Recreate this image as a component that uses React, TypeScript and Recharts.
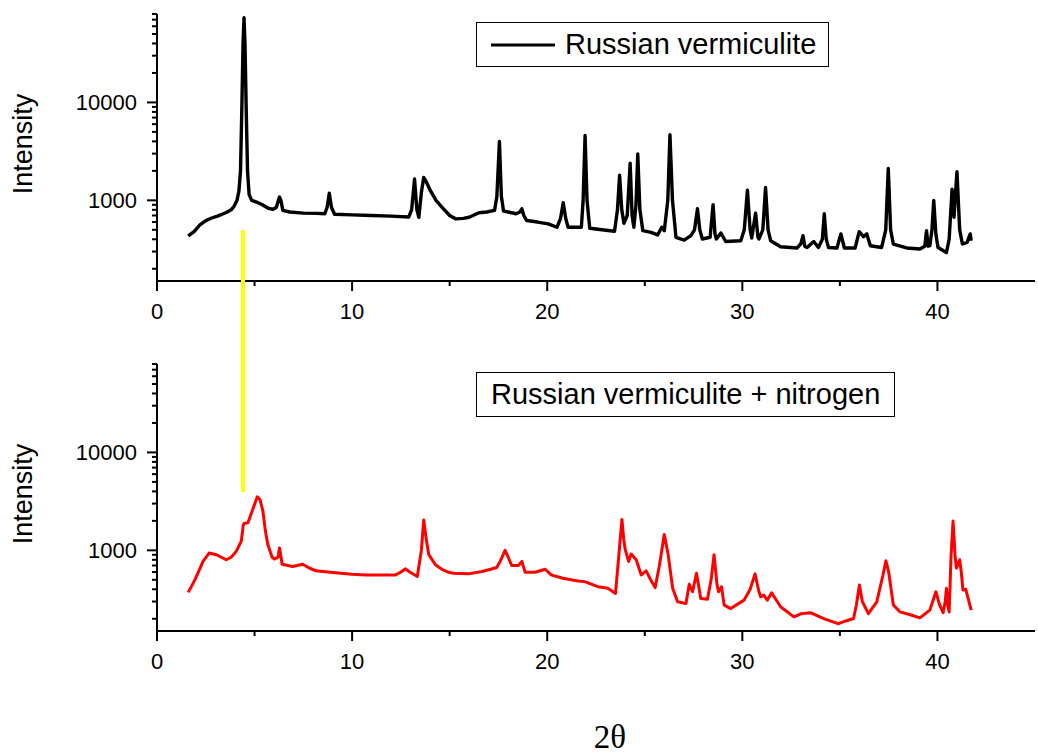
import React from "react"
import { LineChart, Line, XAxis, YAxis, Legend } from "recharts"

// 2θ / intensity
const vermTheta = [
  1.6, 1.9, 2.2, 2.5, 2.8, 3.1, 3.4, 3.6, 3.8, 3.95, 4.1, 4.2, 4.28, 4.35, 4.41, 4.46, 4.51, 4.57, 4.64, 4.72,
  4.85, 5.1, 5.4, 5.7, 5.95, 6.12, 6.22, 6.28, 6.35, 6.45, 6.8, 7.5, 8.2, 8.6, 8.72, 8.83, 8.94, 9.1, 10, 11,
  12, 12.9, 13.05, 13.2, 13.32, 13.42, 13.55, 13.67, 13.8, 14.0, 14.3, 14.6, 15.0, 15.3, 15.7, 16.0, 16.5, 16.9, 17.3, 17.42,
  17.55, 17.65, 17.76, 18.0, 18.4, 18.6, 18.7, 18.8, 18.95, 19.5, 20.05, 20.5, 20.68, 20.82, 20.95, 21.07, 21.5, 21.75, 21.84, 21.94,
  22.04, 22.18, 22.8, 23.45, 23.6, 23.71, 23.82, 23.93, 24.1, 24.25, 24.35, 24.44, 24.55, 24.64, 24.75, 24.9, 25.32, 25.66, 25.87, 26.0,
  26.18, 26.29, 26.42, 26.6, 27.02, 27.36, 27.55, 27.7, 27.82, 27.95, 28.35, 28.5, 28.6, 28.67, 28.9, 29.15, 29.92, 30.1, 30.26, 30.4,
  30.48, 30.68, 30.8, 30.85, 31.05, 31.19, 31.32, 31.45, 31.96, 32.8, 33.0, 33.11, 33.2, 33.32, 33.66, 33.9, 34.1, 34.2, 34.3, 34.42,
  34.85, 35.05, 35.23, 35.78, 35.99, 36.21, 36.38, 36.56, 37.14, 37.35, 37.48, 37.6, 37.74, 38.42, 39.1, 39.35, 39.44, 39.52, 39.61, 39.72,
  39.81, 39.92, 40.03, 40.46, 40.6, 40.75, 40.85, 41.0, 41.14, 41.28, 41.52, 41.68, 41.73,
]
const vermIntensity = [
  433, 480, 560, 620, 660, 690, 730, 760, 800, 870, 1000, 1250, 2000, 9000, 40000, 73500, 40000, 9000, 2000, 1150,
  1000, 960, 900, 830, 810, 850, 1000, 1080, 1000, 790, 760, 740, 735, 730, 850, 1180, 850, 720, 710, 700,
  690, 675, 800, 1650, 800, 672, 1200, 1710, 1550, 1270, 1000, 853, 700, 647, 655, 672, 746, 760, 789, 1100,
  3990, 1100, 776, 760, 729, 760, 820, 700, 622, 600, 575, 531, 650, 946, 650, 531, 531, 531, 1000, 4600,
  1000, 518, 500, 483, 800, 1810, 800, 583, 700, 2390, 700, 531, 900, 2980, 800, 490, 471, 443, 531, 490,
  1000, 4680, 1000, 418, 393, 436, 500, 820, 500, 403, 420, 903, 450, 403, 464, 380, 387, 500, 1268, 500,
  412, 740, 420, 403, 500, 1350, 500, 387, 336, 326, 360, 436, 340, 330, 380, 330, 400, 729, 400, 330,
  326, 454, 326, 326, 479, 425, 454, 344, 330, 500, 2120, 500, 358, 326, 318, 340, 490, 340, 344, 500,
  1000, 450, 330, 293, 400, 1300, 672, 1960, 500, 358, 372, 454, 387,
]

const nitroTheta = [
  1.6, 1.94, 2.2, 2.36, 2.67, 3.04, 3.3, 3.55, 3.8, 4.06, 4.32, 4.42, 4.46, 4.66, 4.9, 5.14, 5.28, 5.43, 5.55, 5.68,
  5.9, 6.02, 6.2, 6.28, 6.36, 6.41, 6.95, 7.47, 7.8, 8.15, 9.0, 10.0, 10.7, 11.5, 12.23, 12.5, 12.74, 12.95, 13.34, 13.55,
  13.67, 13.8, 13.93, 14.27, 14.6, 14.95, 15.2, 15.97, 16.65, 17.1, 17.41, 17.6, 17.84, 18.0, 18.18, 18.52, 18.7, 18.87, 19.38, 19.9,
  20.2, 20.8, 21.58, 21.92, 22.6, 23.11, 23.5, 23.65, 23.83, 23.92, 24.0, 24.17, 24.3, 24.56, 24.82, 25.07, 25.3, 25.53, 25.75, 26.0,
  26.2, 26.43, 26.68, 27.11, 27.28, 27.45, 27.65, 27.87, 28.21, 28.4, 28.55, 28.7, 28.78, 28.93, 29.07, 29.4, 30.09, 30.4, 30.65, 30.85,
  30.94, 31.1, 31.28, 31.5, 31.96, 32.64, 33.0, 33.49, 34.17, 34.5, 34.93, 35.3, 35.7, 35.85, 36.0, 36.15, 36.46, 36.89, 37.2, 37.36,
  37.5, 37.74, 38.08, 38.6, 39.1, 39.61, 39.92, 40.1, 40.29, 40.4, 40.46, 40.52, 40.6, 40.7, 40.8, 40.9, 40.97, 41.14, 41.22, 41.31,
  41.45, 41.73,
]
const nitroIntensity = [
  372, 499, 650, 770, 938, 903, 850, 802, 850, 976, 1240, 1800, 1885, 1910, 2600, 3520, 3300, 2520, 1600, 1145,
  850, 814, 850, 1056, 850, 722, 684, 722, 660, 617, 593, 570, 561, 560, 561, 600, 647, 600, 540, 1000,
  2040, 1300, 903, 712, 640, 597, 584, 575, 608, 640, 668, 780, 1000, 850, 700, 700, 770, 597, 597, 641,
  561, 518, 487, 479, 425, 409, 363, 800, 2070, 1300, 1016, 770, 916, 802, 561, 617, 500, 416, 700, 1450,
  900, 409, 298, 287, 450, 378, 584, 322, 317, 500, 903, 450, 378, 425, 276, 254, 310, 400, 575, 380,
  335, 349, 310, 369, 265, 209, 225, 231, 201, 190, 178, 190, 201, 280, 443, 300, 226, 298, 550, 783,
  600, 276, 235, 220, 204, 245, 378, 280, 231, 300, 409, 280, 235, 900, 1990, 900, 657, 802, 600, 393,
  400, 245,
]

const xTicks = [0, 5, 10, 15, 20, 25, 30, 35, 40]
const yTicks = [
  200, 300, 400, 500, 600, 700, 800, 900, 1000,
  2000, 3000, 4000, 5000, 6000, 7000, 8000, 9000, 10000,
  20000, 30000, 40000, 50000, 60000, 70000, 80000,
]
const xLabelTicks = [0, 10, 20, 30, 40]
const yLabelTicks = [1000, 10000]

// where the yellow marker sits: 2θ, and intensity at its ends (top panel / bottom panel)
const markerTheta = 4.4
const markerTopValue = 500
const markerBottomValue = 3900

const X_DOMAIN: [number, number] = [0, 45]
const Y_DOMAIN: [number, number] = [150, 80000]

const W = 1038
const H = 350
const LEFT = 157
const TOP = 14
const RIGHT = 3
const PLOT_W = W - LEFT - RIGHT
const PLOT_H = 267

const vermData = vermTheta.map((x, i) => ({ x, y: vermIntensity[i] }))
const nitroData = nitroTheta.map((x, i) => ({ x, y: nitroIntensity[i] }))

const FONT = "'Liberation Sans', Arial, sans-serif"

const xToPx = (v: number) => LEFT + ((v - X_DOMAIN[0]) / (X_DOMAIN[1] - X_DOMAIN[0])) * PLOT_W
const yToPx = (v: number) => {
  const lo = Math.log10(Y_DOMAIN[0])
  const hi = Math.log10(Y_DOMAIN[1])
  return TOP + ((hi - Math.log10(v)) / (hi - lo)) * PLOT_H
}

function XTick({ x, y, payload }: any) {
  const major = xLabelTicks.includes(payload.value)
  return (
    <g>
      <line x1={x} x2={x} y1={y} y2={y + (major ? 10 : 5)} stroke="#000" strokeWidth={2} />
      {major && (
        <text x={x} y={y + 38} textAnchor="middle" fontSize={22} fontFamily={FONT} fill="#000">
          {payload.value}
        </text>
      )}
    </g>
  )
}

function YTick({ x, y, payload }: any) {
  const major = yLabelTicks.includes(payload.value)
  return (
    <g>
      <line x1={x} x2={x - (major ? 10 : 5)} y1={y} y2={y} stroke="#000" strokeWidth={2} />
      {major && (
        <text x={x - 20} y={y} textAnchor="end" dominantBaseline="central" fontSize={22} fontFamily={FONT} fill="#000">
          {payload.value}
        </text>
      )}
    </g>
  )
}

const intensityLabel = () => (
  <text transform="translate(32,144) rotate(-90)" textAnchor="middle" fontSize={27} fontFamily={FONT} fill="#000">
    Intensity
  </text>
)

function LegendBox({ text, color, width, showLine }: { text: string; color: string; width: number; showLine: boolean }) {
  return (
    <div
      style={{
        width,
        height: 45,
        boxSizing: "border-box",
        border: "1.5px solid #000",
        background: "#fff",
        display: "flex",
        alignItems: "center",
        paddingLeft: 14,
        fontFamily: FONT,
        fontSize: 29,
        color: "#000",
        whiteSpace: "nowrap",
      }}
    >
      {showLine && (
        <svg width={74} height={10} style={{ flex: "none" }}>
          <line x1={0} x2={64} y1={5} y2={5} stroke={color} strokeWidth={3} />
        </svg>
      )}
      <span>{text}</span>
    </div>
  )
}

function Panel({ data, color, strokeWidth, legendText, legendWidth, showLine }: any) {
  return (
    <LineChart width={W} height={H} data={data} margin={{ top: TOP, right: RIGHT, bottom: 29, left: 0 }}>
      <XAxis
        dataKey="x"
        type="number"
        domain={X_DOMAIN}
        ticks={xTicks}
        interval={0}
        height={40}
        tickSize={0}
        tickMargin={0}
        tickLine={false}
        axisLine={{ stroke: "#000", strokeWidth: 2 }}
        tick={XTick}
      />
      <YAxis
        dataKey="y"
        type="number"
        scale="log"
        domain={Y_DOMAIN}
        ticks={yTicks}
        interval={0}
        width={LEFT}
        tickSize={0}
        tickMargin={0}
        tickLine={false}
        axisLine={{ stroke: "#000", strokeWidth: 2 }}
        tick={YTick}
        label={intensityLabel}
      />
      <Legend
        layout="vertical"
        align="center"
        verticalAlign="middle"
        wrapperStyle={{ left: 476, top: 22, width: legendWidth, height: 45 }}
        content={() => <LegendBox text={legendText} color={color} width={legendWidth} showLine={showLine} />}
      />
      <Line
        dataKey="y"
        name={legendText}
        stroke={color}
        strokeWidth={strokeWidth}
        dot={false}
        activeDot={false}
        isAnimationActive={false}
        strokeLinejoin="round"
      />
    </LineChart>
  )
}

export default function App() {
  const markerX = xToPx(markerTheta)
  const markerTop = yToPx(markerTopValue)
  const markerBottom = H + yToPx(markerBottomValue)
  return (
    <div style={{ position: "absolute", left: 0, top: 0, width: W, height: 754, background: "#fff" }}>
      <div style={{ position: "absolute", left: 0, top: 0 }}>
        <Panel data={vermData} color="#000000" strokeWidth={3.4} legendText="Russian vermiculite" legendWidth={353} showLine />
      </div>
      <div style={{ position: "absolute", left: 0, top: H }}>
        <Panel
          data={nitroData}
          color="#ff0000"
          strokeWidth={3}
          legendText="Russian vermiculite + nitrogen"
          legendWidth={419}
          showLine={false}
        />
      </div>
      <div
        style={{
          position: "absolute",
          left: markerX - 2,
          top: markerTop,
          width: 4,
          height: markerBottom - markerTop,
          background: "#ffff00",
        }}
      />
      <svg width={W} height={60} style={{ position: "absolute", left: 0, top: 700 }}>
        <text x={610} y={48} textAnchor="middle" fontSize={33} fontFamily="'Liberation Serif', 'Times New Roman', serif" fill="#000">
          2θ
        </text>
      </svg>
    </div>
  )
}
